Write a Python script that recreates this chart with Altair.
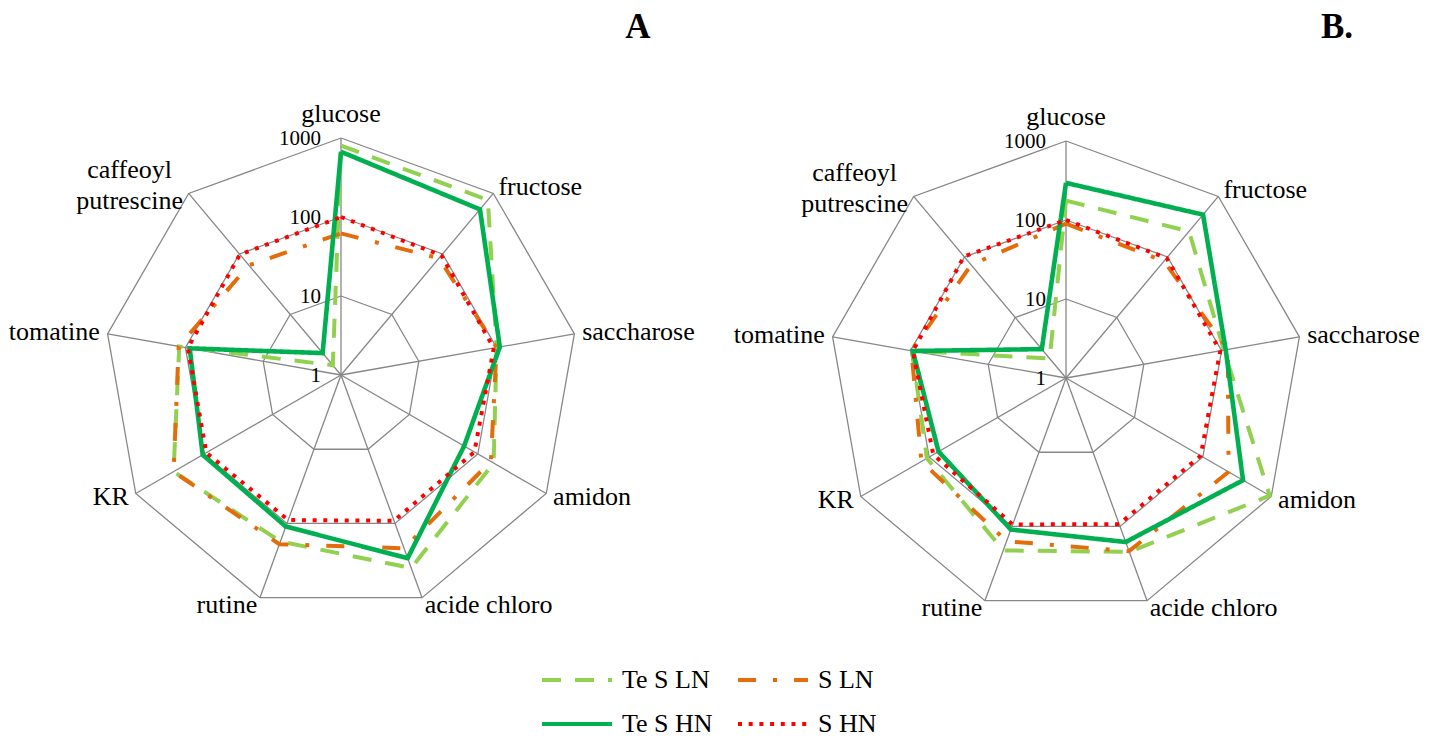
import altair as alt
import pandas as pd

# ---------------- data ----------------
categories = ["glucose", "fructose", "saccharose", "amidon", "acide chloro",
              "rutine", "KR", "tomatine", "caffeoyl\nputrescine"]
series_names = ["Te S LN", "S LN", "Te S HN", "S HN"]
panel_names = ["A", "B."]
tick_values = [1, 10, 100, 1000]

a_te_s_ln = [800, 780, 100, 170, 398, 175, 280, 120, 1.45]
a_s_ln = [62, 85, 100, 155, 216, 190, 280, 122, 65]
a_te_s_hn = [670, 545, 110, 63, 293, 110, 105, 88, 2.3]
a_s_hn = [100, 95, 92, 89, 92, 90, 93, 93, 98]

b_te_s_ln = [176, 265, 107, 950, 220, 210, 108, 95, 2.1]
b_s_ln = [90, 85, 120, 238, 215, 158, 130, 97, 74]
b_te_s_hn = [295, 500, 113, 387, 162, 110, 73, 93, 3.0]
b_s_hn = [100, 96, 96, 93, 93, 94, 87, 93, 102]

# ---------------- styles ----------------
FONT = "Liberation Serif"
series_colors = ["#92D050", "#E46C0A", "#00B050", "#FF0000"]
series_dashes = [[19, 14], [18, 17, 4, 17], [1, 0], [4, 6.7]]
series_widths = [4, 4, 4.6, 4]
GRID = "#878787"

# ---------------- layout ----------------
W, H = 1424, 730
PX = 79.0                      # pixels per decade
CA = (333.0, 367.0)            # panel A centre (chart px)
CB = (1058.0, 370.0)           # panel B centre (chart px)
X0, X1 = -CA[0] / PX, (W - CA[0]) / PX
Y0, Y1 = (CA[1] - H) / PX, CA[1] / PX
BX, BY = (CB[0] - CA[0]) / PX, -(CB[1] - CA[1]) / PX
N = len(categories)

xs = alt.Scale(domain=[X0, X1], nice=False, zero=False)
ys = alt.Scale(domain=[Y0, Y1], nice=False, zero=False)

# ---------------- tables ----------------
panel_series = {"A": [a_te_s_ln, a_s_ln, a_te_s_hn, a_s_hn],
                "B.": [b_te_s_ln, b_s_ln, b_te_s_hn, b_s_hn]}
series_rows = []
for p in panel_names:
    for name, vals in zip(series_names, panel_series[p]):
        for i in range(N + 1):
            series_rows.append({"panel": p, "series": name, "idx": i, "value": vals[i % N]})
df_series = pd.DataFrame(series_rows)

df_rings = pd.DataFrame([{"panel": p, "ring": f"{p}-{t}", "idx": i, "value": t}
                         for p in panel_names for t in tick_values[1:] for i in range(N + 1)])
df_spokes = pd.DataFrame([{"panel": p, "idx": i, "value": tick_values[-1]}
                          for p in panel_names for i in range(N)])
df_ticks = pd.DataFrame([{"panel": p, "idx": 0, "value": t, "label": str(t)}
                         for p in panel_names for t in tick_values])
df_labels = pd.DataFrame([{"panel": p, "idx": i, "label": c}
                          for p in panel_names for i, c in enumerate(categories)])


def polar(ch, rexpr="log(datum.value) / LN10"):
    return ch.transform_calculate(
        ang=f"datum.idx * 2 * PI / {N}",
        rad=rexpr,
        cx=f"datum.panel == 'A' ? 0 : {BX}",
        cy=f"datum.panel == 'A' ? 0 : {BY}",
    ).transform_calculate(
        px="datum.cx + datum.rad * sin(datum.ang)",
        py="datum.cy + datum.rad * cos(datum.ang)",
    )


X = alt.X("px:Q", scale=xs, axis=None)
Y = alt.Y("py:Q", scale=ys, axis=None)

rings = polar(alt.Chart(df_rings)).mark_line(color=GRID, strokeWidth=1.3).encode(
    x=X, y=Y, order="idx:Q", detail="ring:N")

spokes = polar(alt.Chart(df_spokes)).mark_rule(color=GRID, strokeWidth=1.3).encode(
    x=alt.X("cx:Q", scale=xs, axis=None), y=alt.Y("cy:Q", scale=ys, axis=None),
    x2="px:Q", y2="py:Q")

legend = alt.Legend(
    title=None, orient="none", legendX=534, legendY=659, columns=2,
    direction="horizontal", symbolType="M-3.5,0H3.5", symbolSize=400,
    symbolStrokeWidth=4, symbolOffset=22, labelOffset=32,
    labelFont=FONT, labelFontSize=26, labelColor="black", labelLimit=0,
    columnPadding=17, rowPadding=18, padding=0)

color_scale = alt.Scale(domain=series_names, range=series_colors)
dash_scale = alt.Scale(domain=series_names, range=series_dashes)

series_layers = []
for name, width in zip(series_names, series_widths):
    series_layers.append(
        polar(alt.Chart(df_series).transform_filter(alt.datum.series == name))
        .mark_line(strokeWidth=width)
        .encode(
            x=X, y=Y, order="idx:Q", detail="panel:N",
            color=alt.Color("series:N", scale=color_scale, legend=legend),
            strokeDash=alt.StrokeDash("series:N", scale=dash_scale, legend=legend),
        )
    )

tick_text = polar(alt.Chart(df_ticks)).mark_text(
    align="right", baseline="middle", dx=-20, dy=1, font=FONT, fontSize=21,
    color="black").encode(x=X, y=Y, text="label:N")

lab_r = "datum.idx == 0 ? 3.3 : 3.1"
lab_base = polar(alt.Chart(df_labels), lab_r)
txt = dict(baseline="middle", font=FONT, fontSize=26, color="black", lineBreak="\n")
lab_center = lab_base.transform_filter("datum.idx == 0").mark_text(align="center", **txt).encode(
    x=X, y=Y, text="label:N")
lab_left = lab_base.transform_filter("datum.idx >= 1 && datum.idx <= 4").mark_text(
    align="left", **txt).encode(x=X, y=Y, text="label:N")
lab_right = lab_base.transform_filter("datum.idx >= 5 && datum.idx <= 7").mark_text(
    align="right", **txt).encode(x=X, y=Y, text="label:N")
lab_multi = lab_base.transform_filter("datum.idx == 8").mark_text(
    align="center", dx=-54, dy=-17, lineHeight=31, **txt).encode(x=X, y=Y, text="label:N")

title_a = alt.Chart(pd.DataFrame({"t": [panel_names[0]]})).mark_text(
    font=FONT, fontSize=35, fontWeight="bold", color="black", align="center",
    baseline="middle").encode(x=alt.value(630), y=alt.value(19), text="t:N")
title_b = alt.Chart(pd.DataFrame({"t": [panel_names[1]]})).mark_text(
    font=FONT, fontSize=35, fontWeight="bold", color="black", align="center",
    baseline="middle").encode(x=alt.value(1329), y=alt.value(19), text="t:N")

chart = alt.layer(
    rings, spokes, *series_layers, tick_text,
    lab_center, lab_left, lab_right, lab_multi, title_a, title_b
).properties(
    width=W, height=H, padding=0,
    autosize=alt.AutoSizeParams(type="none"),
    background="white",
).configure_view(stroke=None)

chart.save("out.html", embed_options={"renderer": "svg", "actions": False})
